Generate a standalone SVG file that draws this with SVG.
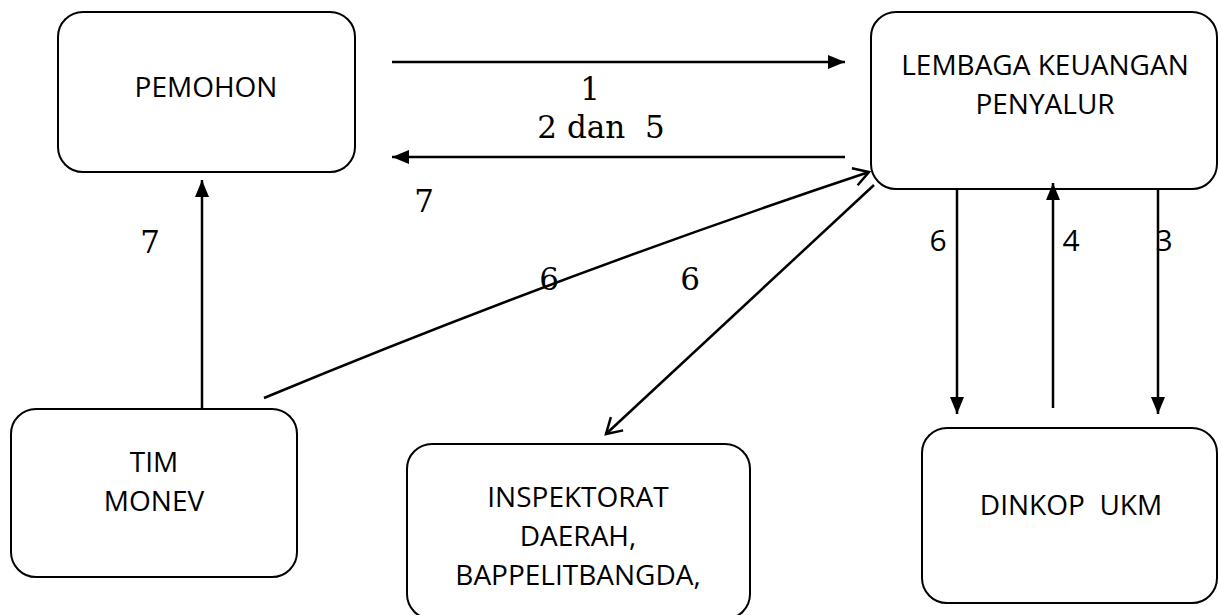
<svg xmlns="http://www.w3.org/2000/svg" width="1218" height="615" viewBox="0 0 1218 615">
<style>
.box{fill:#fff;stroke:#000;stroke-width:2}
.lbl{font-family:"Open Sans","Liberation Sans",sans-serif;font-size:28px;fill:#000;text-anchor:middle;white-space:pre}
.num{font-family:"DejaVu Serif","Liberation Serif",serif;font-size:31px;fill:#000;text-anchor:middle;white-space:pre}
.snum{font-family:"Open Sans","Liberation Sans",sans-serif;font-size:30px;fill:#000;text-anchor:middle}
.ln{fill:none;stroke:#000;stroke-width:2.5}
</style>
<defs>
<marker id="fa" markerUnits="userSpaceOnUse" markerWidth="20" markerHeight="16" refX="17" refY="7" orient="auto"><path d="M0,0 L17,7 L0,14 Z" fill="#000"/></marker>
<marker id="oa" markerUnits="userSpaceOnUse" markerWidth="20" markerHeight="24" refX="16" refY="11" orient="auto"><path d="M1,2 L16,11 L1,20" fill="none" stroke="#000" stroke-width="2.5"/></marker>
</defs>
<rect width="1218" height="615" fill="#fff"/>
<g id="pemohon"><rect class="box" x="58" y="12" width="297" height="160" rx="25"/><text class="lbl" x="206" y="97">PEMOHON</text></g>
<g id="lembaga"><rect class="box" x="871" y="12" width="346" height="177" rx="25"/><text class="lbl" x="1045" y="75">LEMBAGA KEUANGAN</text><text class="lbl" x="1045" y="114">PENYALUR</text></g>
<g id="timmonev"><rect class="box" x="11" y="409" width="286" height="168" rx="25"/><text class="lbl" x="154" y="472">TIM</text><text class="lbl" x="154" y="511">MONEV</text></g>
<g id="inspektorat"><rect class="box" x="407" y="444" width="343" height="175" rx="25"/><text class="lbl" x="578" y="507">INSPEKTORAT</text><text class="lbl" x="578" y="546">DAERAH,</text><text class="lbl" x="578" y="585">BAPPELITBANGDA,</text></g>
<g id="dinkop"><rect class="box" x="922" y="428" width="295" height="175" rx="25"/><text class="lbl" x="1071" y="515">DINKOP  UKM</text></g>
<g id="connectors">
<line class="ln" x1="392" y1="62" x2="845" y2="62" marker-end="url(#fa)"/>
<line class="ln" x1="845" y1="157" x2="392" y2="157" marker-end="url(#fa)"/>
<line class="ln" x1="202" y1="408" x2="202" y2="180" marker-end="url(#fa)"/>
<path class="ln" d="M264,398 Q560,275 869,172" marker-end="url(#oa)"/>
<line class="ln" x1="874" y1="185" x2="606" y2="434" marker-end="url(#oa)"/>
<line class="ln" x1="957" y1="189" x2="957" y2="414" marker-end="url(#fa)"/>
<line class="ln" x1="1053" y1="408" x2="1053" y2="183" marker-end="url(#fa)"/>
<line class="ln" x1="1158" y1="189" x2="1158" y2="414" marker-end="url(#fa)"/>
</g>
<g id="labels">
<text class="num" x="590" y="100">1</text>
<text class="num" x="601" y="138">2 dan  5</text>
<text class="num" x="424" y="212">7</text>
<text class="num" x="150" y="253">7</text>
<text class="num" x="549" y="290">6</text>
<text class="num" x="690" y="290">6</text>
<text class="snum" x="938" y="251">6</text>
<text class="snum" x="1071" y="251">4</text>
<text class="snum" x="1164" y="251">3</text>
</g>
</svg>
